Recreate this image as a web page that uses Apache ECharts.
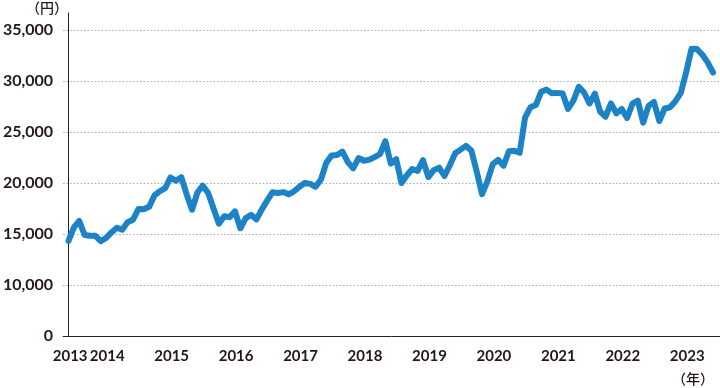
<!DOCTYPE html>
<html>
<head>
<meta charset="utf-8">
<script src="https://cdn.jsdelivr.net/npm/echarts@6/dist/echarts.min.js"></script>
<style>
html,body{margin:0;padding:0;background:#fff;}
#chart{width:720px;height:388px;}
</style>
</head>
<body>
<div id="chart"></div>
<script>
// Monthly closes, Oct 2013 – Oct 2023 (円)
const startYear = 2013, startMonth = 10;
const values = [
  14327, 15662, 16291,
  14915, 14841, 14828, 14304, 14632, 15162, 15621, 15425, 16174, 16414, 17460, 17451,
  17674, 18798, 19207, 19520, 20563, 20236, 20585, 18890, 17388, 19083, 19747, 19034,
  17518, 16027, 16759, 16666, 17235, 15576, 16569, 16887, 16450, 17425, 18308, 19114,
  19041, 19119, 18909, 19197, 19651, 20033, 19925, 19646, 20356, 22012, 22725, 22765,
  23098, 22068, 21454, 22468, 22202, 22305, 22554, 22865, 24120, 21920, 22351, 20015,
  20773, 21385, 21206, 22259, 20601, 21276, 21522, 20704, 21756, 22927, 23294, 23657,
  23205, 21143, 18917, 20194, 21878, 22288, 21710, 23140, 23185, 22977, 26434, 27444,
  27663, 28966, 29179, 28813, 28860, 28792, 27284, 28090, 29453, 28893, 27822, 28792,
  27002, 26527, 27821, 26848, 27280, 26393, 27802, 28092, 25937, 27587, 27968, 26095,
  27327, 27446, 28041, 28856, 30888, 33189, 33172, 32619, 31858, 30859
];
const categories = values.map((_, i) => {
  const m = startMonth - 1 + i;
  return (startYear + Math.floor(m / 12)) + '-' + String(m % 12 + 1).padStart(2, '0');
});
const yearLabels = ['2013','2014','2015','2016','2017','2018','2019','2020','2021','2022','2023'];
const yTicks = [5000, 10000, 15000, 20000, 25000, 30000, 35000];

// label position (in month index) for each year label
function yearPos(y) {
  const yr = Number(y);
  if (yr === startYear) return 0.3;
  return (yr - startYear) * 12 - (startMonth - 1) + 4.2;
}
const labelPositions = yearLabels.map(yearPos);
const posToYear = {};
yearLabels.forEach((y, i) => { posToYear[labelPositions[i].toFixed(3)] = y; });

const chart = echarts.init(document.getElementById('chart'), null, {renderer: 'canvas'});
const txtColor = '#231815';
const font = 'Lato, "Noto Sans", sans-serif';
chart.setOption({
  animation: false,
  grid: {left: 61, right: 0, top: 13, bottom: 52, containLabel: false},
  xAxis: {
    type: 'value',
    min: -1,
    max: 121.3,
    axisLine: {show: true, onZero: false, lineStyle: {color: '#222', width: 1}},
    axisTick: {show: false},
    splitLine: {show: false},
    axisLabel: {
      customValues: labelPositions,
      margin: 13,
      color: txtColor,
      fontFamily: font,
      fontWeight: 'bold',
      fontSize: 15,
      formatter: v => posToYear[Number(v).toFixed(3)] || ''
    }
  },
  yAxis: {
    type: 'value',
    min: 5000,
    max: 36700,
    axisLine: {show: true, lineStyle: {color: '#222', width: 1}},
    axisTick: {show: false, customValues: yTicks},
    splitLine: {show: true, lineStyle: {color: '#aaa', type: [1.5, 2], width: 1}},
    axisLabel: {
      customValues: yTicks,
      margin: 10,
      color: txtColor,
      fontFamily: font,
      fontWeight: 'bold',
      fontSize: 16,
      formatter: v => v === 5000 ? '0' : Number(v).toLocaleString('en-US')
    }
  },
  graphic: [
    {type: 'text', left: 26, top: 1, style: {text: '（円）', fill: txtColor, font: '500 14px "Noto Sans CJK JP", sans-serif'}},
    {type: 'text', left: 672, top: 372, style: {text: '（年）', fill: txtColor, font: '500 14px "Noto Sans CJK JP", sans-serif'}}
  ],
  series: [{
    type: 'line',
    data: categories.map((c, i) => [i, values[i]]),
    showSymbol: false,
    symbol: 'none',
    lineStyle: {color: '#1c84c6', width: 6, cap: 'round', join: 'round'},
    clip: false
  }]
});
</script>
</body>
</html>
